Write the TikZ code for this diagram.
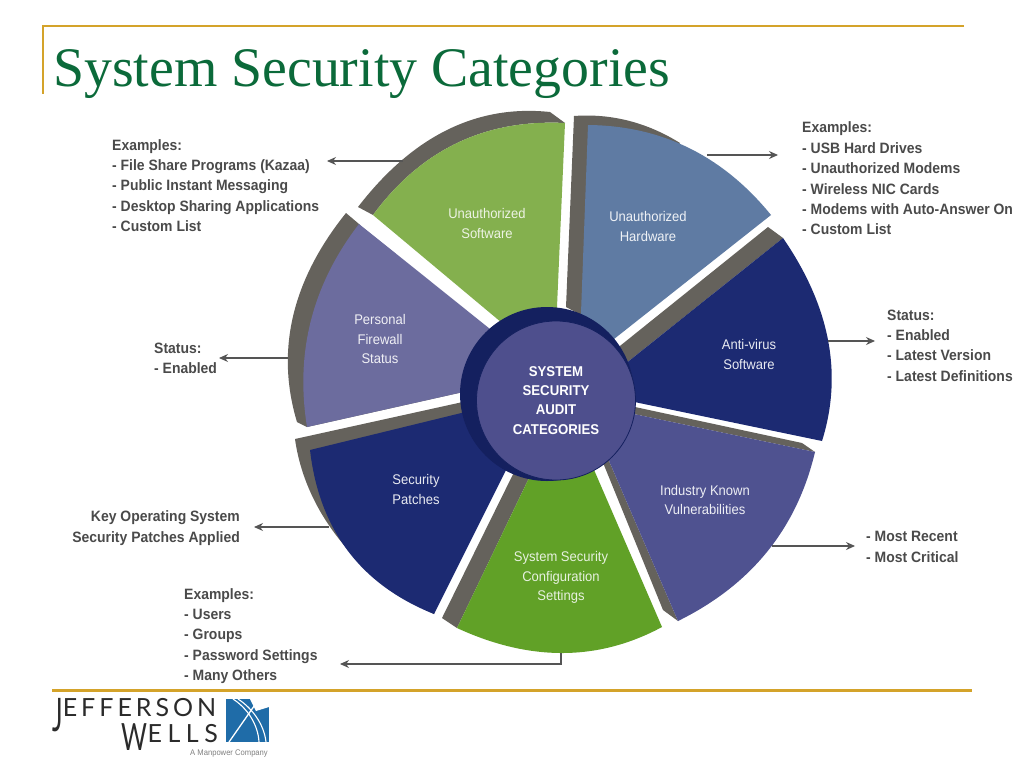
\documentclass[tikz,border=0pt]{standalone}
\usepackage{fontspec}
\usepackage{graphicx}
\setmainfont[FakeStretch=0.93]{Liberation Sans}
\newfontfamily\titlefont{Liberation Serif}
\newfontfamily\logofont[LetterSpace=16]{Lato}
\newfontfamily\logofontb[LetterSpace=22]{Lato}
\usetikzlibrary{arrows.meta}
\definecolor{gold}{HTML}{D4A32A}
\definecolor{titlegreen}{HTML}{0B6A3A}
\definecolor{sidegray}{HTML}{65625C}
\definecolor{softgreen}{HTML}{84B04E}
\definecolor{hardblue}{HTML}{5F7BA3}
\definecolor{navy}{HTML}{1C2A72}
\definecolor{vulnblue}{HTML}{4F5290}
\definecolor{confgreen}{HTML}{61A127}
\definecolor{firepurple}{HTML}{6C6C9E}
\definecolor{disclight}{HTML}{4E4F8D}
\definecolor{discdark}{HTML}{14205F}
\definecolor{labelgray}{HTML}{4A4A4A}
\definecolor{arrowgray}{HTML}{555555}
\definecolor{logoblue}{HTML}{1F6CA8}
\definecolor{logoblack}{HTML}{2B2B2B}
\tikzset{
  side/.style={fill=sidegray,draw=none},
  inlabel/.style={text=#1,align=center,inner sep=0pt,font=\fontsize{14}{19.2}\selectfont},
  inlabel/.default=white,
  outlabel/.style={text=labelgray,align=left,inner sep=0pt,anchor=west,font=\fontsize{15}{20.4}\selectfont\bfseries},
  conn/.style={draw=arrowgray,line width=1.1pt,-{Stealth[length=9pt,width=8pt]}},
  goldline/.style={draw=gold,line width=2.2pt}
}
\begin{document}
\begin{tikzpicture}[x=1pt,y=-1pt]
\useasboundingbox (0,0) rectangle (1024,768);
\fill[white] (0,0) rectangle (1024,768);
% title frame
\draw[goldline] (964,26) -- (43,26) -- (43,94);
\node[anchor=base west,inner sep=0pt,text=titlegreen,font=\titlefont\fontsize{55.8}{56}\selectfont] (title) at (53,86) {System Security Categories};
\draw[goldline] (52,690.5) -- (972,690.5);
% side faces
\path[side] (358,207) .. controls (412.7,136) and (476.7,104.3) .. (550,112) -- (565,123) .. controls (485,119) and (421,149.7) .. (373,215) -- cycle;
\path[side] (574,116) .. controls (611.3,113.3) and (646.7,122.3) .. (680,143) -- (581,315) -- (566,307) -- cycle;
\path[side] (768,227) -- (783,238) -- (610,376) -- (600,362) -- cycle;
\path[side] (635,407) -- (802,443) -- (815,452) -- (610,409) -- cycle;
\path[side] (595,443) -- (663,610) -- (678,621) -- (600,440) -- cycle;
\path[side] (442,618) -- (457,628) -- (540,455) -- (525,450) -- cycle;
\path[side] (295,439) .. controls (305,510) and (355,575) .. (434,614) -- (490,430) -- (490,396) -- cycle;
\path[side] (346,213) .. controls (293,279) and (275,349) .. (297,422) -- (307,427) -- (490,386) -- (359,224) -- cycle;
% top faces
\fill[softgreen] (373,215) .. controls (421,149.7) and (485,119) .. (565,123) -- (556,330) -- (520,338) -- cycle;
\fill[hardblue] (588,125) .. controls (661.7,125.7) and (722.7,155.7) .. (771,215) -- (590,358) -- (580,340) -- cycle;
\fill[navy] (783,238) .. controls (830,306.3) and (843,374) .. (822,441) -- (620,399) -- (610,376) -- cycle;
\fill[vulnblue] (815,452) .. controls (796.7,529) and (751,585) .. (678,621) -- (600,440) -- (610,409) -- cycle;
\fill[confgreen] (457,628) .. controls (530,661.7) and (598.3,661.3) .. (662,627) -- (585,449) -- (540,455) -- cycle;
\fill[navy] (310,450) .. controls (319.3,530) and (360.7,584.7) .. (434,614) -- (525,432) -- (490,406) -- cycle;
\fill[firepurple] (359,224) .. controls (312.3,284.7) and (295,352.3) .. (307,427) -- (490,386) -- (500,337) -- cycle;
% hub
\fill[discdark] (547,394) circle[radius=87];
\node[circle,fill=disclight,draw=discdark,line width=0.8pt,minimum size=159pt,inner sep=0pt,text=white,align=center,font=\fontsize{14.2}{19.2}\selectfont\bfseries] (hub) at (556,400.5) {SYSTEM\\SECURITY\\AUDIT\\CATEGORIES};
% face labels
\node[inlabel={white!85!softgreen}] (software) at (487,223.5) {Unauthorized\\Software};
\node[inlabel={white!90!hardblue}] (hardware) at (648,226.5) {Unauthorized\\Hardware};
\node[inlabel={white!90!navy}] (antivirus) at (749,354.5) {Anti-virus\\Software};
\node[inlabel={white!90!firepurple}] (firewall) at (380,339) {Personal\\Firewall\\Status};
\node[inlabel={white!90!navy}] (patches) at (416,489.5) {Security\\Patches};
\node[inlabel={white!85!confgreen}] (config) at (561,577.5) {System Security\\Configuration\\Settings};
\node[inlabel={white!90!vulnblue}] (vuln) at (705,500) {Industry Known\\Vulnerabilities};
% outer labels
\node[outlabel] (softlist) at (112,185.5) {Examples:\\- File Share Programs (Kazaa)\\- Public Instant Messaging\\- Desktop Sharing Applications\\- Custom List};
\node[outlabel] (hardlist) at (802,178.5) {Examples:\\- USB Hard Drives\\- Unauthorized Modems\\- Wireless NIC Cards\\- Modems with Auto-Answer On\\- Custom List};
\node[outlabel] (avlist) at (887,345.5) {Status:\\- Enabled\\- Latest Version\\- Latest Definitions};
\node[outlabel] (fwlist) at (154,358.5) {Status:\\- Enabled};
\node[outlabel,align=right,anchor=east] (patchlist) at (240,528) {Key Operating System\\Security Patches Applied};
\node[outlabel] (vulnlist) at (866,547) {- Most Recent\\- Most Critical};
\node[outlabel] (conflist) at (184,636) {Examples:\\- Users\\- Groups\\- Password Settings\\- Many Others};
% connectors
\coordinate (softA) at (403,161); \coordinate (softB) at (327,161);
\coordinate (hardA) at (707,155); \coordinate (hardB) at (778,155);
\coordinate (avA) at (828,341); \coordinate (avB) at (875,341);
\coordinate (fwA) at (288,358); \coordinate (fwB) at (219,358);
\coordinate (patchA) at (329,527); \coordinate (patchB) at (254,527);
\coordinate (vulnA) at (772,546); \coordinate (vulnB) at (855,546);
\coordinate (confA) at (561,653); \coordinate (confB) at (340,664);
\draw[conn] (softA) -- (softB);
\draw[conn] (hardA) -- (hardB);
\draw[conn] (avA) -- (avB);
\draw[conn] (fwA) -- (fwB);
\draw[conn] (patchA) -- (patchB);
\draw[conn] (vulnA) -- (vulnB);
\draw[conn] (confA) |- (confB);
% logo
\node[anchor=base west,inner sep=0pt,text=logoblack,font=\logofont\fontsize{25}{25}\selectfont] (logoa) at (52,716) {\raisebox{-15pt}[18pt][0pt]{\scalebox{1}[1.85]{J}}EFFERSON};
\node[anchor=base east,inner sep=0pt,text=logoblack,font=\logofontb\fontsize{25}{25}\selectfont] (logob) at (218,742) {\raisebox{-8pt}[18pt][0pt]{\scalebox{1}[1.5]{W}}ELLS};
\node[anchor=base east,inner sep=0pt,text=gray,font=\fontsize{8.2}{8}\selectfont] (logoc) at (268,755) {A Manpower Company};
\fill[logoblue] (226,699) -- (269,699) -- (269,742) -- (226,742) -- cycle;
\fill[white] (250,699) -- (269,699) -- (269,707) -- (256,711) -- cycle;
\draw[white,line width=1.3pt] (259,699) -- (229,742);
\draw[white,line width=1.1pt] (238,699) .. controls (252,708) and (264,724) .. (266,742);
\draw[white,line width=1.1pt] (233,699) .. controls (247,708) and (258,724) .. (259,742);
\end{tikzpicture}
\end{document}
